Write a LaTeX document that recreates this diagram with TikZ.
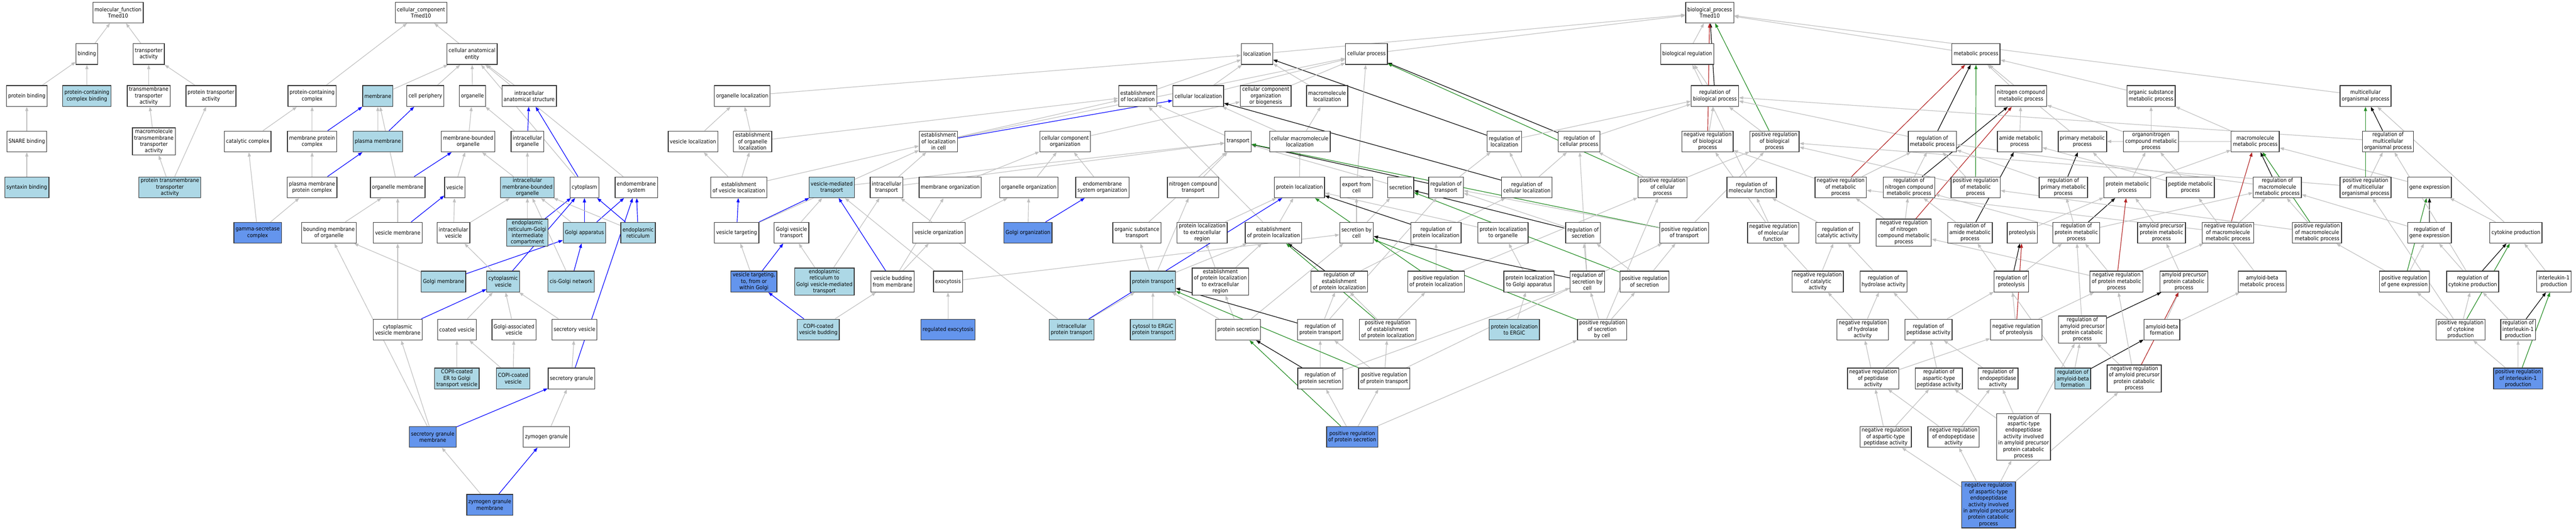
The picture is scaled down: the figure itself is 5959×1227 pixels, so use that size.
\documentclass[tikz,border=0pt]{standalone}
\usepackage{fontspec}
\setmainfont{DejaVu Sans Condensed}
\usepackage{tikz}
\usetikzlibrary{arrows.meta}
\usetikzlibrary{backgrounds}
\definecolor{lightblue}{HTML}{ADD8E6}
\definecolor{cornflower}{HTML}{6495ED}
\definecolor{edgegray}{HTML}{C0C0C0}
\definecolor{forestgreen}{HTML}{228B22}
\definecolor{firebrick}{HTML}{B22222}
\newcommand{\termfont}{\fontsize{6.3pt}{7.4pt}\selectfont}

\begin{document}
\begin{tikzpicture}[x=0.5pt, y=-0.5pt,
    term/.style={draw=black!80, line width=0.8pt, fill=white, rectangle, align=center,
      minimum height=24pt, inner xsep=2pt, inner ysep=1.5pt, font=\termfont},
    hit/.style={term, fill=lightblue},
    seed/.style={term, fill=cornflower},
    isa/.style={-{Triangle[length=5pt,width=3.6pt]}, draw=edgegray, line width=0.7pt},
    partof/.style={isa, draw=blue},
    regul/.style={isa, draw=black},
    posreg/.style={isa, draw=forestgreen},
    negreg/.style={isa, draw=firebrick}]
\useasboundingbox (0,0) rectangle (5959,1227);

\node[term] (mf) at (273,29) {molecular\_function\\Tmed10};
\node[term] (binding) at (201,125) {binding};
\node[term] (tract) at (344,125) {transporter\\activity};
\node[term] (protbind) at (62,222) {protein binding};
\node[hit] (pccbind) at (201,222) {protein-containing\\complex binding};
\node[term] (tmtract) at (344,222) {transmembrane\\transporter\\activity};
\node[term] (prottract) at (488,222) {protein transporter\\activity};
\node[term] (snare) at (62,327) {SNARE binding};
\node[term] (mmtract) at (356,327) {macromolecule\\transmembrane\\transporter\\activity};
\node[hit] (syntaxin) at (62,433) {syntaxin binding};
\node[hit] (ptmtract) at (393,433) {protein transmembrane\\transporter\\activity};

\node[term] (cc) at (974,29) {cellular\_component\\Tmed10};
\node[term] (cae) at (1092,125) {cellular anatomical\\entity};
\node[term] (pcc) at (722,222) {protein-containing\\complex};
\node[hit] (membrane) at (874,222) {membrane};
\node[term] (cellper) at (984,222) {cell periphery};
\node[term] (organelle) at (1093,222) {organelle};
\node[term] (ias) at (1224,222) {intracellular\\anatomical structure};
\node[term] (catcomp) at (573,327) {catalytic complex};
\node[term] (mpc) at (722,327) {membrane protein\\complex};
\node[hit] (pm) at (874,327) {plasma membrane};
\node[term] (mbo) at (1083,327) {membrane-bounded\\organelle};
\node[term] (io) at (1220,327) {intracellular\\organelle};
\node[term] (pmpc) at (722,433) {plasma membrane\\protein complex};
\node[term] (orgmem) at (920,433) {organelle membrane};
\node[term] (vesicle) at (1052,433) {vesicle};
\node[hit] (imbo) at (1220,433) {intracellular\\membrane-bounded\\organelle};
\node[term] (cytoplasm) at (1352,433) {cytoplasm};
\node[term] (endomem) at (1472,433) {endomembrane\\system};
\node[seed] (gamma) at (596,538) {gamma-secretase\\complex};
\node[term] (boundmem) at (761,538) {bounding membrane\\of organelle};
\node[term] (vesmem) at (920,538) {vesicle membrane};
\node[term] (icvesicle) at (1049,538) {intracellular\\vesicle};
\node[hit] (ergic) at (1220,538) {endoplasmic\\reticulum-Golgi\\intermediate\\compartment};
\node[hit] (golgi) at (1352,538) {Golgi apparatus};
\node[hit] (er) at (1476,538) {endoplasmic\\reticulum};
\node[hit] (golgimem) at (1026,651) {Golgi membrane};
\node[hit] (cytoves) at (1164,651) {cytoplasmic\\vesicle};
\node[hit] (cisgolgi) at (1321,651) {cis-Golgi network};
\node[term] (cytovesmem) at (920,762) {cytoplasmic\\vesicle membrane};
\node[term] (coatves) at (1057,762) {coated vesicle};
\node[term] (golgives) at (1189,762) {Golgi-associated\\vesicle};
\node[term] (secves) at (1329,762) {secretory vesicle};
\node[hit] (copii) at (1057,875) {COPII-coated\\ER to Golgi\\transport vesicle};
\node[hit] (copi) at (1187,875) {COPI-coated\\vesicle};
\node[term] (secgran) at (1322,875) {secretory granule};
\node[seed] (secgranmem) at (1001,1010) {secretory granule\\membrane};
\node[term] (zymgran) at (1264,1010) {zymogen granule};
\node[seed] (zymgranmem) at (1133,1167) {zymogen granule\\membrane};

\node[term] (bp) at (3955,29) {biological\_process\\Tmed10};
\node[term] (loc) at (2908,125) {localization};
\node[term] (cellproc) at (3161,125) {cellular process};
\node[term] (bioreg) at (3903,125) {biological regulation};
\node[term] (metab) at (4571,125) {metabolic process};
\node[term] (orgloc) at (1717,222) {organelle localization};
\node[term] (estloc) at (2632,222) {establishment\\of localization};
\node[term] (cellloc) at (2772,222) {cellular localization};
\node[term] (ccob) at (2928,222) {cellular component\\organization\\or biogenesis};
\node[term] (macroloc) at (3070,222) {macromolecule\\localization};
\node[term] (regbp) at (3967,222) {regulation of\\biological process};
\node[term] (ncmp) at (4675,222) {nitrogen compound\\metabolic process};
\node[term] (osmp) at (4976,222) {organic substance\\metabolic process};
\node[term] (multiorg) at (5472,222) {multicellular\\organismal process};
\node[term] (vesloc) at (1603,327) {vesicle localization};
\node[term] (estorgloc) at (1741,327) {establishment\\of organelle\\localization};
\node[term] (estlocincell) at (2171,327) {establishment\\of localization\\in cell};
\node[term] (cco) at (2464,327) {cellular component\\organization};
\node[term] (transport) at (2864,327) {transport};
\node[term] (cellmacroloc) at (3007,327) {cellular macromolecule\\localization};
\node[term] (regloc) at (3480,327) {regulation of\\localization};
\node[term] (regcellproc) at (3653,327) {regulation of\\cellular process};
\node[term] (negregbp) at (3950,327) {negative regulation\\of biological\\process};
\node[term] (posregbp) at (4105,327) {positive regulation\\of biological\\process};
\node[term] (regmetab) at (4470,327) {regulation of\\metabolic process};
\node[term] (amidemp) at (4672,327) {amide metabolic\\process};
\node[term] (primmp) at (4817,327) {primary metabolic\\process};
\node[term] (onmp) at (4976,327) {organonitrogen\\compound metabolic\\process};
\node[term] (macromp) at (5217,327) {macromolecule\\metabolic process};
\node[term] (regmulti) at (5524,327) {regulation of\\multicellular\\organismal process};
\node[term] (estvesloc) at (1709,433) {establishment\\of vesicle localization};
\node[hit] (vesmedtr) at (1924,433) {vesicle-mediated\\transport};
\node[term] (ictransport) at (2051,433) {intracellular\\transport};
\node[term] (memorg) at (2198,433) {membrane organization};
\node[term] (orgorg) at (2380,433) {organelle organization};
\node[term] (endomemorg) at (2550,433) {endomembrane\\system organization};
\node[term] (nctransport) at (2760,433) {nitrogen compound\\transport};
\node[term] (protloc) at (3006,433) {protein localization};
\node[term] (export) at (3138,433) {export from\\cell};
\node[term] (secretion) at (3240,433) {secretion};
\node[term] (regtransport) at (3345,433) {regulation of\\transport};
\node[term] (regcellloc) at (3532,433) {regulation of\\cellular localization};
\node[term] (posregcellproc) at (3846,433) {positive regulation\\of cellular\\process};
\node[term] (regmf) at (4052,433) {regulation of\\molecular function};
\node[term] (negregmetab) at (4258,433) {negative regulation\\of metabolic\\process};
\node[term] (regncmp) at (4416,433) {regulation of\\nitrogen compound\\metabolic process};
\node[term] (posregmetab) at (4570,433) {positive regulation\\of metabolic\\process};
\node[term] (regprimmp) at (4773,433) {regulation of\\primary metabolic\\process};
\node[term] (protmp) at (4921,433) {protein metabolic\\process};
\node[term] (peptmp) at (5067,433) {peptide metabolic\\process};
\node[term] (regmacromp) at (5268,433) {regulation of\\macromolecule\\metabolic process};
\node[term] (posregmulti) at (5472,433) {positive regulation\\of multicellular\\organismal process};
\node[term] (geneexp) at (5620,433) {gene expression};
\node[term] (vestarg) at (1704,538) {vesicle targeting};
\node[term] (golgivestr) at (1831,538) {Golgi vesicle\\transport};
\node[term] (vesorg) at (2172,538) {vesicle organization};
\node[seed] (golgiorg) at (2378,538) {Golgi organization};
\node[term] (ostransport) at (2630,538) {organic substance\\transport};
\node[term] (protlocextra) at (2781,538) {protein localization\\to extracellular\\region};
\node[term] (estprotloc) at (2946,538) {establishment\\of protein localization};
\node[term] (secbycell) at (3138,538) {secretion by\\cell};
\node[term] (regprotloc) at (3322,538) {regulation of\\protein localization};
\node[term] (protlocorg) at (3477,538) {protein localization\\to organelle};
\node[term] (regsecretion) at (3662,538) {regulation of\\secretion};
\node[term] (posregtransport) at (3896,538) {positive regulation\\of transport};
\node[term] (negregmf) at (4102,538) {negative regulation\\of molecular\\function};
\node[term] (regcatact) at (4251,538) {regulation of\\catalytic activity};
\node[term] (negregncmp) at (4404,538) {negative regulation\\of nitrogen\\compound metabolic\\process};
\node[term] (regamidemp) at (4557,538) {regulation of\\amide metabolic\\process};
\node[term] (proteolysis) at (4678,538) {proteolysis};
\node[term] (regprotmp) at (4803,538) {regulation of\\protein metabolic\\process};
\node[term] (appmp) at (5000,538) {amyloid precursor\\protein metabolic\\process};
\node[term] (negregmacromp) at (5154,538) {negative regulation\\of macromolecule\\metabolic process};
\node[term] (posregmacromp) at (5360,538) {positive regulation\\of macromolecule\\metabolic process};
\node[term] (reggeneexp) at (5620,538) {regulation of\\gene expression};
\node[term] (cytokine) at (5820,538) {cytokine production};
\node[seed] (vestarggolgi) at (1744,651) {vesicle targeting,\\to, from or\\within Golgi};
\node[hit] (ergolgi) at (1907,651) {endoplasmic\\reticulum to\\Golgi vesicle-mediated\\transport};
\node[term] (vesbud) at (2065,651) {vesicle budding\\from membrane};
\node[term] (exocytosis) at (2193,651) {exocytosis};
\node[hit] (prottransport) at (2667,651) {protein transport};
\node[term] (estprotlocextra) at (2823,651) {establishment\\of protein localization\\to extracellular\\region};
\node[term] (regestprotloc) at (3098,651) {regulation of\\establishment\\of protein localization};
\node[term] (posregprotloc) at (3322,651) {positive regulation\\of protein localization};
\node[term] (protlocgolgi) at (3537,651) {protein localization\\to Golgi apparatus};
\node[term] (regsecbycell) at (3672,651) {regulation of\\secretion by\\cell};
\node[term] (posregsecretion) at (3804,651) {positive regulation\\of secretion};
\node[term] (negregcatact) at (4205,651) {negative regulation\\of catalytic\\activity};
\node[term] (reghydro) at (4357,651) {regulation of\\hydrolase activity};
\node[term] (regproteolysis) at (4653,651) {regulation of\\proteolysis};
\node[term] (negregprotmp) at (4896,651) {negative regulation\\of protein metabolic\\process};
\node[term] (appcp) at (5052,651) {amyloid precursor\\protein catabolic\\process};
\node[term] (abmp) at (5233,651) {amyloid-beta\\metabolic process};
\node[term] (posreggeneexp) at (5562,651) {positive regulation\\of gene expression};
\node[term] (regcytokine) at (5720,651) {regulation of\\cytokine production};
\node[term] (il1) at (5908,651) {interleukin-1\\production};
\node[hit] (copibud) at (1893,762) {COPI-coated\\vesicle budding};
\node[seed] (regexo) at (2193,762) {regulated exocytosis};
\node[hit] (icprottransport) at (2479,762) {intracellular\\protein transport};
\node[hit] (cytosolergic) at (2667,762) {cytosol to ERGIC\\protein transport};
\node[term] (protsecretion) at (2864,762) {protein secretion};
\node[term] (regprottransport) at (3054,762) {regulation of\\protein transport};
\node[term] (posregestprotloc) at (3210,762) {positive regulation\\of establishment\\of protein localization};
\node[hit] (protlocergic) at (3503,762) {protein localization\\to ERGIC};
\node[term] (posregsecbycell) at (3706,762) {positive regulation\\of secretion\\by cell};
\node[term] (negreghydro) at (4309,762) {negative regulation\\of hydrolase\\activity};
\node[term] (regpeptidase) at (4461,762) {regulation of\\peptidase activity};
\node[term] (negregproteolysis) at (4664,762) {negative regulation\\of proteolysis};
\node[term] (regappcp) at (4817,762) {regulation of\\amyloid precursor\\protein catabolic\\process};
\node[term] (abform) at (5001,762) {amyloid-beta\\formation};
\node[term] (posregcytokine) at (5692,762) {positive regulation\\of cytokine\\production};
\node[term] (regil1) at (5825,762) {regulation of\\interleukin-1\\production};
\node[term] (regprotsec) at (3054,875) {regulation of\\protein secretion};
\node[term] (posregprottransport) at (3202,875) {positive regulation\\of protein transport};
\node[term] (negregpeptidase) at (4333,875) {negative regulation\\of peptidase\\activity};
\node[term] (regasppeptidase) at (4485,875) {regulation of\\aspartic-type\\peptidase activity};
\node[term] (regendopep) at (4622,875) {regulation of\\endopeptidase\\activity};
\node[hit] (regabform) at (4795,875) {regulation of\\amyloid-beta\\formation};
\node[term] (negregappcp) at (4937,875) {negative regulation\\of amyloid precursor\\protein catabolic\\process};
\node[seed] (posregil1) at (5825,875) {positive regulation\\of interleukin-1\\production};
\node[seed] (posregprotsec) at (3128,1010) {positive regulation\\of protein secretion};
\node[term] (negregasppeptidase) at (4362,1010) {negative regulation\\of aspartic-type\\peptidase activity};
\node[term] (negregendopep) at (4519,1010) {negative regulation\\of endopeptidase\\activity};
\node[term] (regaspendo) at (4681,1010) {regulation of\\aspartic-type\\endopeptidase\\activity involved\\in amyloid precursor\\protein catabolic\\process};
\node[seed] (negregaspendo) at (4600,1167) {negative regulation\\of aspartic-type\\endopeptidase\\activity involved\\in amyloid precursor\\protein catabolic\\process};

\begin{pgfonlayer}{background}
\draw[isa] (binding) -- (mf);
\draw[isa] (tract) -- (mf);
\draw[isa] (protbind) -- (binding);
\draw[isa] (pccbind) -- (binding);
\draw[isa] (tmtract) -- (tract);
\draw[isa] (prottract) -- (tract);
\draw[isa] (snare) -- (protbind);
\draw[isa] (syntaxin) -- (snare);
\draw[isa] (mmtract) -- (tmtract);
\draw[isa] (ptmtract) -- (mmtract);
\draw[isa] (ptmtract) -- (prottract);

\draw[isa] (pcc) -- (cc);
\draw[isa] (cae) -- (cc);
\draw[isa] (membrane) -- (cae);
\draw[isa] (cellper) -- (cae);
\draw[isa] (organelle) -- (cae);
\draw[isa] (ias) -- (cae);
\draw[isa] (cytoplasm) -- (cae);
\draw[isa] (endomem) -- (cae);
\draw[isa] (catcomp) -- (pcc);
\draw[isa] (mpc) -- (pcc);
\draw[partof] (mpc) -- (membrane);
\draw[isa] (pm) -- (membrane);
\draw[partof] (pm) -- (cellper);
\draw[isa] (pmpc) -- (mpc);
\draw[partof] (pmpc) -- (pm);
\draw[isa] (gamma) -- (catcomp);
\draw[isa] (gamma) -- (pmpc);
\draw[isa] (orgmem) -- (membrane);
\draw[partof] (orgmem) -- (mbo);
\draw[isa] (mbo) -- (organelle);
\draw[isa] (io) -- (organelle);
\draw[partof] (io) -- (ias);
\draw[partof] (cytoplasm) -- (ias);
\draw[isa] (boundmem) -- (orgmem);
\draw[isa] (vesmem) -- (orgmem);
\draw[partof] (vesmem) -- (vesicle);
\draw[isa] (vesicle) -- (mbo);
\draw[isa] (imbo) -- (mbo);
\draw[isa] (imbo) -- (io);
\draw[isa] (icvesicle) -- (vesicle);
\draw[isa] (icvesicle) -- (imbo);
\draw[isa] (ergic) -- (imbo);
\draw[partof] (ergic) -- (cytoplasm);
\draw[isa] (golgi) -- (imbo);
\draw[partof] (golgi) -- (cytoplasm);
\draw[partof] (golgi) -- (endomem);
\draw[isa] (er) -- (imbo);
\draw[partof] (er) -- (cytoplasm);
\draw[partof] (er) -- (endomem);
\draw[isa] (golgimem) -- (boundmem);
\draw[partof] (golgimem) -- (golgi);
\draw[isa] (cytoves) -- (icvesicle);
\draw[partof] (cytoves) -- (cytoplasm);
\draw[isa] (cisgolgi) -- (imbo);
\draw[partof] (cisgolgi) -- (golgi);
\draw[isa] (cytovesmem) -- (vesmem);
\draw[partof] (cytovesmem) -- (cytoves);
\draw[isa] (coatves) -- (cytoves);
\draw[isa] (golgives) -- (cytoves);
\draw[isa] (secves) -- (cytoves);
\draw[isa] (copii) -- (coatves);
\draw[isa] (copi) -- (coatves);
\draw[isa] (copi) -- (golgives);
\draw[isa] (secgran) -- (secves);
\draw[partof] (secgran) -- (endomem);
\draw[isa] (secgranmem) -- (cytovesmem);
\draw[isa] (secgranmem) -- (boundmem);
\draw[partof] (secgranmem) -- (secgran);
\draw[isa] (zymgran) -- (secgran);
\draw[isa] (zymgranmem) -- (secgranmem);
\draw[partof] (zymgranmem) -- (zymgran);

\draw[isa] (loc) -- (bp);
\draw[isa] (cellproc) -- (bp);
\draw[isa] (bioreg) -- (bp);
\draw[isa] (metab) -- (bp);
\draw[isa] (multiorg) -- (bp);
\draw[isa] (estloc) -- (loc);
\draw[isa] (cellloc) -- (loc);
\draw[isa] (macroloc) -- (loc);
\draw[isa] (orgloc) -- (loc);
\draw[regul] (regloc) -- (loc);
\draw[isa] (ccob) -- (cellproc);
\draw[isa] (cellloc) -- (cellproc);
\draw[isa] (estlocincell) -- (cellproc);
\draw[isa] (export) -- (cellproc);
\draw[regul] (regcellproc) -- (cellproc);
\draw[posreg] (posregcellproc) -- (cellproc);
\draw[isa] (regbp) -- (bioreg);
\draw[regul] (regbp) -- (bp);
\draw[isa] (negregbp) -- (regbp);
\draw[negreg] (negregbp) -- (bp);
\draw[isa] (posregbp) -- (regbp);
\draw[posreg] (posregbp) -- (bp);
\draw[isa] (regmf) -- (bioreg);
\draw[isa] (regloc) -- (regbp);
\draw[isa] (regcellproc) -- (regbp);
\draw[isa] (estlocincell) -- (estloc);
\draw[partof] (estlocincell) -- (cellloc);
\draw[isa] (cco) -- (ccob);
\draw[isa] (transport) -- (estloc);
\draw[isa] (cellmacroloc) -- (cellloc);
\draw[isa] (cellmacroloc) -- (macroloc);
\draw[regul] (regcellloc) -- (cellloc);
\draw[isa] (estorgloc) -- (orgloc);
\draw[isa] (estorgloc) -- (estloc);
\draw[isa] (vesloc) -- (orgloc);
\draw[isa] (estvesloc) -- (vesloc);
\draw[isa] (estvesloc) -- (estorgloc);
\draw[isa] (estvesloc) -- (estlocincell);
\draw[isa] (vesmedtr) -- (transport);
\draw[partof] (vestarg) -- (estvesloc);
\draw[partof] (vestarg) -- (vesmedtr);
\draw[isa] (vestarg) -- (estlocincell);
\draw[isa] (golgivestr) -- (vesmedtr);
\draw[isa] (vestarggolgi) -- (vestarg);
\draw[partof] (vestarggolgi) -- (golgivestr);
\draw[isa] (ergolgi) -- (golgivestr);
\draw[isa] (ergolgi) -- (ictransport);
\draw[partof] (copibud) -- (vestarggolgi);
\draw[isa] (copibud) -- (vesbud);
\draw[isa] (vesbud) -- (vesorg);
\draw[isa] (vesbud) -- (memorg);
\draw[partof] (vesbud) -- (vesmedtr);
\draw[isa] (ictransport) -- (estlocincell);
\draw[isa] (ictransport) -- (transport);
\draw[isa] (memorg) -- (cco);
\draw[isa] (orgorg) -- (cco);
\draw[isa] (endomemorg) -- (cco);
\draw[isa] (vesorg) -- (orgorg);
\draw[isa] (golgiorg) -- (orgorg);
\draw[partof] (golgiorg) -- (endomemorg);
\draw[isa] (nctransport) -- (transport);
\draw[isa] (ostransport) -- (transport);
\draw[isa] (protloc) -- (cellmacroloc);
\draw[isa] (protlocextra) -- (protloc);
\draw[isa] (estprotloc) -- (protloc);
\draw[isa] (estprotloc) -- (estloc);
\draw[isa] (prottransport) -- (ostransport);
\draw[isa] (prottransport) -- (estprotloc);
\draw[isa] (prottransport) -- (nctransport);
\draw[isa] (estprotlocextra) -- (protlocextra);
\draw[isa] (estprotlocextra) -- (estprotloc);
\draw[isa] (icprottransport) -- (prottransport);
\draw[isa] (icprottransport) -- (ictransport);
\draw[partof] (icprottransport) -- (protloc);
\draw[isa] (cytosolergic) -- (prottransport);
\draw[isa] (protsecretion) -- (prottransport);
\draw[isa] (protsecretion) -- (estprotlocextra);
\draw[isa] (protsecretion) -- (secbycell);
\draw[isa] (regexo) -- (exocytosis);
\draw[isa] (exocytosis) -- (secbycell);
\draw[isa] (exocytosis) -- (vesmedtr);
\draw[isa] (secbycell) -- (export);
\draw[isa] (secbycell) -- (secretion);
\draw[isa] (secretion) -- (transport);
\draw[regul] (regtransport) -- (transport);
\draw[isa] (regtransport) -- (regloc);
\draw[isa] (regcellloc) -- (regloc);
\draw[isa] (regcellloc) -- (regcellproc);
\draw[isa] (posregcellproc) -- (regcellproc);
\draw[isa] (posregcellproc) -- (posregbp);
\draw[posreg] (posregtransport) -- (transport);
\draw[isa] (posregtransport) -- (regtransport);
\draw[isa] (posregtransport) -- (posregbp);
\draw[isa] (regprotloc) -- (regcellloc);
\draw[regul] (regprotloc) -- (protloc);
\draw[isa] (protlocorg) -- (protloc);
\draw[isa] (protlocgolgi) -- (protlocorg);
\draw[isa] (protlocergic) -- (protlocgolgi);
\draw[regul] (regsecretion) -- (secretion);
\draw[isa] (regsecretion) -- (regtransport);
\draw[isa] (regsecbycell) -- (regcellproc);
\draw[isa] (regestprotloc) -- (regprotloc);
\draw[regul] (regestprotloc) -- (estprotloc);
\draw[isa] (posregprotloc) -- (regprotloc);
\draw[posreg] (posregprotloc) -- (protloc);
\draw[isa] (posregprotloc) -- (posregcellproc);
\draw[isa] (regsecbycell) -- (regsecretion);
\draw[regul] (regsecbycell) -- (secbycell);
\draw[isa] (posregsecretion) -- (regsecretion);
\draw[isa] (posregsecretion) -- (posregtransport);
\draw[posreg] (posregsecretion) -- (secretion);
\draw[isa] (regprottransport) -- (regestprotloc);
\draw[isa] (regprottransport) -- (regtransport);
\draw[regul] (regprottransport) -- (prottransport);
\draw[isa] (posregestprotloc) -- (regestprotloc);
\draw[isa] (posregestprotloc) -- (posregprotloc);
\draw[posreg] (posregestprotloc) -- (estprotloc);
\draw[isa] (posregsecbycell) -- (regsecbycell);
\draw[isa] (posregsecbycell) -- (posregsecretion);
\draw[posreg] (posregsecbycell) -- (secbycell);
\draw[isa] (posregsecbycell) -- (posregcellproc);
\draw[isa] (regprotsec) -- (regprottransport);
\draw[isa] (regprotsec) -- (regsecbycell);
\draw[regul] (regprotsec) -- (protsecretion);
\draw[isa] (posregprottransport) -- (regprottransport);
\draw[isa] (posregprottransport) -- (posregestprotloc);
\draw[isa] (posregprottransport) -- (posregtransport);
\draw[posreg] (posregprottransport) -- (prottransport);
\draw[isa] (posregprotsec) -- (regprotsec);
\draw[isa] (posregprotsec) -- (posregprottransport);
\draw[isa] (posregprotsec) -- (posregsecbycell);
\draw[posreg] (posregprotsec) -- (protsecretion);

\draw[isa] (osmp) -- (metab);
\draw[isa] (ncmp) -- (metab);
\draw[isa] (primmp) -- (metab);
\draw[regul] (regmetab) -- (metab);
\draw[isa] (regmetab) -- (regbp);
\draw[posreg] (posregmetab) -- (metab);
\draw[negreg] (negregmetab) -- (metab);
\draw[regul] (regncmp) -- (ncmp);
\draw[negreg] (negregncmp) -- (ncmp);
\draw[isa] (amidemp) -- (ncmp);
\draw[isa] (onmp) -- (ncmp);
\draw[isa] (onmp) -- (osmp);
\draw[isa] (macromp) -- (osmp);
\draw[isa] (macromp) -- (primmp);
\draw[isa] (regncmp) -- (regmetab);
\draw[isa] (negregmetab) -- (regmetab);
\draw[isa] (posregmetab) -- (regmetab);
\draw[isa] (regprimmp) -- (regmetab);
\draw[isa] (regmacromp) -- (regmetab);
\draw[isa] (negregmetab) -- (negregbp);
\draw[isa] (posregmetab) -- (posregbp);
\draw[regul] (regprimmp) -- (primmp);
\draw[isa] (protmp) -- (primmp);
\draw[isa] (protmp) -- (onmp);
\draw[isa] (protmp) -- (macromp);
\draw[isa] (negregmf) -- (regmf);
\draw[isa] (negregmf) -- (negregbp);
\draw[isa] (regcatact) -- (regmf);
\draw[isa] (negregncmp) -- (regncmp);
\draw[isa] (negregncmp) -- (negregmetab);
\draw[regul] (regamidemp) -- (amidemp);
\draw[isa] (regamidemp) -- (regncmp);
\draw[isa] (proteolysis) -- (protmp);
\draw[regul] (regprotmp) -- (protmp);
\draw[isa] (regprotmp) -- (regprimmp);
\draw[isa] (regprotmp) -- (regmacromp);
\draw[isa] (regprotmp) -- (regncmp);
\draw[isa] (appmp) -- (protmp);
\draw[isa] (peptmp) -- (amidemp);
\draw[isa] (peptmp) -- (onmp);
\draw[regul] (regmacromp) -- (macromp);
\draw[negreg] (negregmacromp) -- (macromp);
\draw[isa] (negregmacromp) -- (regmacromp);
\draw[isa] (negregmacromp) -- (negregmetab);
\draw[posreg] (posregmacromp) -- (macromp);
\draw[isa] (posregmacromp) -- (regmacromp);
\draw[isa] (posregmacromp) -- (posregmetab);
\draw[isa] (geneexp) -- (macromp);
\draw[regul] (reggeneexp) -- (geneexp);
\draw[isa] (reggeneexp) -- (regmacromp);
\draw[posreg] (posreggeneexp) -- (geneexp);
\draw[isa] (posreggeneexp) -- (reggeneexp);
\draw[isa] (posreggeneexp) -- (posregmacromp);
\draw[regul] (regmulti) -- (multiorg);
\draw[isa] (regmulti) -- (regbp);
\draw[posreg] (posregmulti) -- (multiorg);
\draw[isa] (posregmulti) -- (regmulti);
\draw[isa] (posregmulti) -- (posregbp);
\draw[isa] (cytokine) -- (multiorg);
\draw[isa] (cytokine) -- (geneexp);
\draw[regul] (regcytokine) -- (cytokine);
\draw[isa] (regcytokine) -- (regmulti);
\draw[isa] (regcytokine) -- (reggeneexp);
\draw[isa] (il1) -- (cytokine);
\draw[isa] (posregcytokine) -- (regcytokine);
\draw[isa] (posregcytokine) -- (posreggeneexp);
\draw[posreg] (posregcytokine) -- (cytokine);
\draw[isa] (posregcytokine) -- (posregmulti);
\draw[isa] (regil1) -- (regcytokine);
\draw[regul] (regil1) -- (il1);
\draw[isa] (posregil1) -- (posregcytokine);
\draw[isa] (posregil1) -- (regil1);
\draw[posreg] (posregil1) -- (il1);
\draw[isa] (negregcatact) -- (regcatact);
\draw[isa] (negregcatact) -- (negregmf);
\draw[isa] (reghydro) -- (regcatact);
\draw[regul] (regproteolysis) -- (proteolysis);
\draw[isa] (regproteolysis) -- (regprotmp);
\draw[isa] (negregprotmp) -- (regprotmp);
\draw[negreg] (negregprotmp) -- (protmp);
\draw[isa] (negregprotmp) -- (negregncmp);
\draw[isa] (negregprotmp) -- (negregmacromp);
\draw[isa] (appcp) -- (appmp);
\draw[isa] (abmp) -- (peptmp);
\draw[isa] (negreghydro) -- (reghydro);
\draw[isa] (negreghydro) -- (negregcatact);
\draw[isa] (regpeptidase) -- (reghydro);
\draw[isa] (regpeptidase) -- (regproteolysis);
\draw[isa] (negregproteolysis) -- (regproteolysis);
\draw[negreg] (negregproteolysis) -- (proteolysis);
\draw[isa] (negregproteolysis) -- (negregprotmp);
\draw[regul] (regappcp) -- (appcp);
\draw[isa] (regappcp) -- (regprotmp);
\draw[isa] (abform) -- (appcp);
\draw[isa] (abform) -- (abmp);
\draw[isa] (negregpeptidase) -- (negreghydro);
\draw[isa] (negregpeptidase) -- (regpeptidase);
\draw[isa] (negregpeptidase) -- (negregproteolysis);
\draw[isa] (regasppeptidase) -- (regpeptidase);
\draw[isa] (regendopep) -- (regpeptidase);
\draw[isa] (regabform) -- (regappcp);
\draw[regul] (regabform) -- (abform);
\draw[isa] (regabform) -- (regamidemp);
\draw[isa] (negregappcp) -- (regappcp);
\draw[isa] (negregappcp) -- (negregprotmp);
\draw[negreg] (negregappcp) -- (appcp);
\draw[isa] (negregasppeptidase) -- (negregpeptidase);
\draw[isa] (negregasppeptidase) -- (regasppeptidase);
\draw[isa] (negregendopep) -- (negregpeptidase);
\draw[isa] (negregendopep) -- (regendopep);
\draw[isa] (regaspendo) -- (regasppeptidase);
\draw[isa] (regaspendo) -- (regendopep);
\draw[isa] (regaspendo) -- (regappcp);
\draw[isa] (negregaspendo) -- (negregasppeptidase);
\draw[isa] (negregaspendo) -- (negregendopep);
\draw[isa] (negregaspendo) -- (regaspendo);
\draw[isa] (negregaspendo) -- (negregappcp);
\end{pgfonlayer}
\end{tikzpicture}
\end{document}
